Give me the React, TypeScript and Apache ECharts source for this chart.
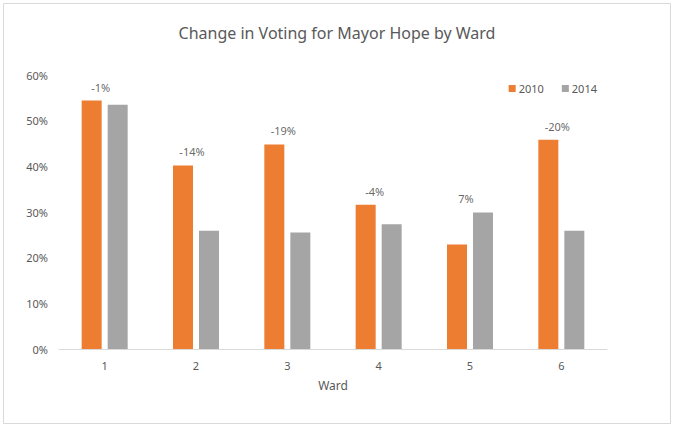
import React, { useEffect, useRef } from "react";
import * as echarts from "echarts";

const wards = ["1", "2", "3", "4", "5", "6"];
const votes2010 = [54.4, 40.2, 44.8, 31.6, 22.9, 45.8];
const votes2014 = [53.5, 25.9, 25.5, 27.3, 29.9, 25.9];
const changes = ["-1%", "-14%", "-19%", "-4%", "7%", "-20%"];
const yTicks = [0, 10, 20, 30, 40, 50, 60];

const FONT = "'Noto Sans', 'Open Sans', sans-serif";
const TXT = "#595959";

export default function App() {
  const ref = useRef<HTMLDivElement>(null);
  useEffect(() => {
    document.body.style.margin = "0";
    const chart = echarts.init(ref.current!, undefined, { renderer: "svg" });
    const labelData = votes2010.map((v, i) => ({
      value: Math.max(v, votes2014[i]),
      change: changes[i],
    }));
    chart.setOption({
      animation: false,
      backgroundColor: "#ffffff",
      textStyle: { fontFamily: FONT },
      title: {
        text: "Change in Voting for Mayor Hope by Ward",
        left: "center",
        top: 20,
        textStyle: { fontFamily: FONT, fontSize: 16, fontWeight: "normal", color: TXT },
      },
      legend: {
        data: ["2010", "2014"],
        right: 72,
        top: 78,
        itemWidth: 7,
        itemHeight: 7,
        itemGap: 18,
        icon: "rect",
        textStyle: { fontFamily: FONT, fontSize: 11, color: TXT, padding: [0, 0, 0, -2] },
      },
      graphic: [
        {
          type: "rect",
          shape: { x: 3.5, y: 3.5, width: 667, height: 420 },
          style: { fill: "none", stroke: "#d9d9d9", lineWidth: 1 },
          silent: true,
        },
      ],
      grid: { left: 59, right: 67, top: 75, bottom: 78, containLabel: false },
      xAxis: {
        type: "category",
        data: wards,
        name: "Ward",
        nameLocation: "middle",
        nameGap: 30,
        nameTextStyle: { fontFamily: FONT, fontSize: 12, color: TXT },
        axisLine: { lineStyle: { color: "#d9d9d9", width: 1 } },
        axisTick: { show: false },
        axisLabel: { fontFamily: FONT, fontSize: 11, color: TXT, margin: 11 },
      },
      yAxis: {
        type: "value",
        min: yTicks[0],
        max: yTicks[yTicks.length - 1],
        interval: 10,
        splitLine: { show: false },
        axisLine: { show: false },
        axisTick: { show: false },
        axisLabel: {
          fontFamily: FONT,
          fontSize: 11,
          color: TXT,
          margin: 11,
          formatter: (v: number) => v + "%",
        },
      },
      series: [
        {
          name: "2010",
          type: "bar",
          data: votes2010,
          itemStyle: { color: "#ED7D31" },
          barWidth: 20,
          barGap: "30%",
        },
        {
          name: "2014",
          type: "bar",
          data: votes2014,
          itemStyle: { color: "#A5A5A5" },
          barWidth: 20,
        },
        {
          name: "change",
          type: "scatter",
          data: labelData,
          symbolSize: 0,
          silent: true,
          label: {
            show: true,
            position: "top",
            distance: 8,
            offset: [-4, 0],
            fontFamily: FONT,
            fontSize: 11,
            color: "#404040",
            formatter: (p: any) => p.data.change,
          },
        },
      ],
    });
    return () => chart.dispose();
  }, []);
  return (
    <div
      ref={ref}
      style={{ position: "absolute", left: 0, top: 0, width: 674, height: 427 }}
    />
  );
}
